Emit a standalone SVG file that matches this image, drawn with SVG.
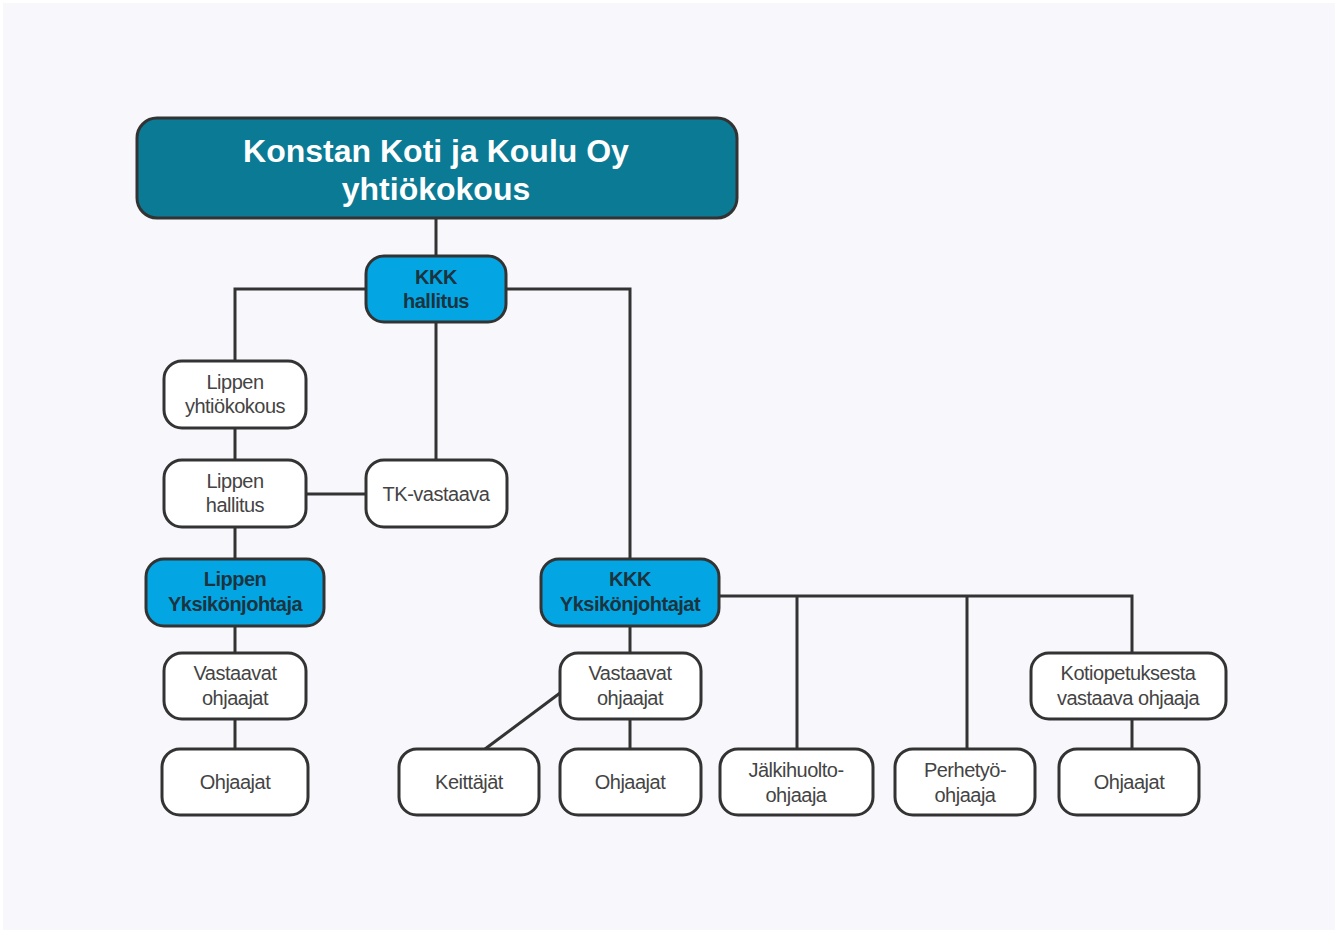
<svg xmlns="http://www.w3.org/2000/svg" width="1340" height="934" viewBox="0 0 1340 934">
<style>
.bg{fill:#f8f8fc}
.n{fill:#ffffff;stroke:#333333;stroke-width:3}
.b{fill:#03a6e3;stroke:#333333;stroke-width:3}
.t{fill:#0b7a95;stroke:#333333;stroke-width:3}
.c{fill:none;stroke:#333333;stroke-width:3}
text{font-family:"Liberation Sans",Arial,sans-serif;text-anchor:middle}
.lw{font-size:20px;fill:#444444;letter-spacing:-0.5px}
.lb{font-size:20px;fill:#1c3440;font-weight:bold;letter-spacing:-0.5px}
.lt{font-size:32px;fill:#ffffff;font-weight:bold}
</style>
<rect x="0" y="0" width="1340" height="934" fill="#ffffff"/>
<rect class="bg" x="3" y="3" width="1332" height="927"/>
<g id="connectors">
<path class="c" d="M436 218V256"/>
<path class="c" d="M366 289H235V361"/>
<path class="c" d="M506 289H630V559"/>
<path class="c" d="M436 322V460"/>
<path class="c" d="M235 428V460"/>
<path class="c" d="M235 527V559"/>
<path class="c" d="M235 626V653"/>
<path class="c" d="M235 719V749"/>
<path class="c" d="M306 494H366"/>
<path class="c" d="M630 626V653"/>
<path class="c" d="M630 719V749"/>
<path class="c" d="M560 693L485 749"/>
<path class="c" d="M719 596H1132V653"/>
<path class="c" d="M797 596V749"/>
<path class="c" d="M967 596V749"/>
<path class="c" d="M1132 719V749"/>
</g>
<g id="n-top"><rect class="t" x="137" y="118" width="600" height="100" rx="20"/><text class="lt" x="436" y="162">Konstan Koti ja Koulu Oy</text><text class="lt" x="436" y="200">yhtiökokous</text></g>
<g id="n-kkk-hallitus"><rect class="b" x="366" y="256" width="140" height="66" rx="18"/><text class="lb" x="436" y="284">KKK</text><text class="lb" x="436" y="308">hallitus</text></g>
<g id="n-lippen-yk"><rect class="n" x="164" y="361" width="142" height="67" rx="18"/><text class="lw" x="235" y="389">Lippen</text><text class="lw" x="235" y="413">yhtiökokous</text></g>
<g id="n-lippen-hallitus"><rect class="n" x="164" y="460" width="142" height="67" rx="18"/><text class="lw" x="235" y="488">Lippen</text><text class="lw" x="235" y="512">hallitus</text></g>
<g id="n-tk"><rect class="n" x="366" y="460" width="141" height="67" rx="18"/><text class="lw" x="436" y="501">TK-vastaava</text></g>
<g id="n-lippen-yj"><rect class="b" x="146" y="559" width="178" height="67" rx="18"/><text class="lb" x="235" y="586">Lippen</text><text class="lb" x="235" y="611">Yksikönjohtaja</text></g>
<g id="n-kkk-yj"><rect class="b" x="541" y="559" width="178" height="67" rx="18"/><text class="lb" x="630" y="586">KKK</text><text class="lb" x="630" y="611">Yksikönjohtajat</text></g>
<g id="n-vo-left"><rect class="n" x="164" y="653" width="142" height="66" rx="18"/><text class="lw" x="235" y="680">Vastaavat</text><text class="lw" x="235" y="705">ohjaajat</text></g>
<g id="n-oh-left"><rect class="n" x="162" y="749" width="146" height="66" rx="18"/><text class="lw" x="235" y="789">Ohjaajat</text></g>
<g id="n-vo-right"><rect class="n" x="560" y="653" width="141" height="66" rx="18"/><text class="lw" x="630" y="680">Vastaavat</text><text class="lw" x="630" y="705">ohjaajat</text></g>
<g id="n-keittajat"><rect class="n" x="399" y="749" width="140" height="66" rx="18"/><text class="lw" x="469" y="789">Keittäjät</text></g>
<g id="n-oh-mid"><rect class="n" x="560" y="749" width="141" height="66" rx="18"/><text class="lw" x="630" y="789">Ohjaajat</text></g>
<g id="n-jalkihuolto"><rect class="n" x="720" y="749" width="153" height="66" rx="18"/><text class="lw" x="796" y="777">Jälkihuolto-</text><text class="lw" x="796" y="802">ohjaaja</text></g>
<g id="n-perhetyo"><rect class="n" x="895" y="749" width="140" height="66" rx="18"/><text class="lw" x="965" y="777">Perhetyö-</text><text class="lw" x="965" y="802">ohjaaja</text></g>
<g id="n-kotiopetus"><rect class="n" x="1031" y="653" width="195" height="66" rx="18"/><text class="lw" x="1128" y="680">Kotiopetuksesta</text><text class="lw" x="1128" y="705">vastaava ohjaaja</text></g>
<g id="n-oh-right"><rect class="n" x="1059" y="749" width="140" height="66" rx="18"/><text class="lw" x="1129" y="789">Ohjaajat</text></g>
</svg>
